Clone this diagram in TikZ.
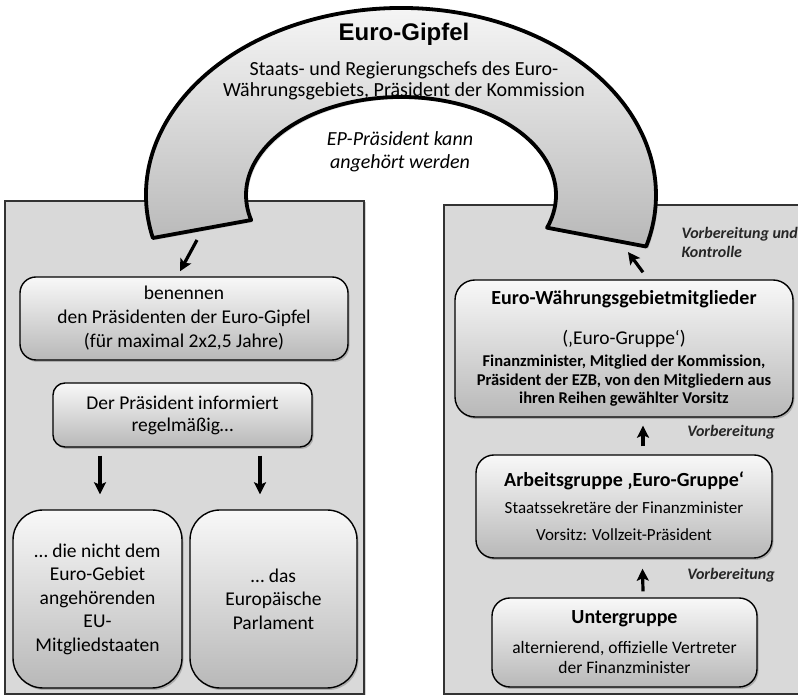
\documentclass[tikz,border=0pt]{standalone}
\usepackage{fontspec}
\setmainfont{Carlito}
\newfontfamily\arialfont{Liberation Sans}
\usetikzlibrary{arrows.meta,positioning,shadows,calc}
\definecolor{panelgray}{HTML}{D9D9D9}
\definecolor{panelline}{HTML}{333333}
\definecolor{boxtop}{HTML}{F8F8F8}
\definecolor{boxbottom}{HTML}{B8B8B8}
\definecolor{archtop}{HTML}{FAFAFA}
\definecolor{archbottom}{HTML}{B8B8B8}
\newcommand{\fsz}[2]{\fontsize{#1}{#2}\selectfont}
\tikzset{
  panel/.style={draw=panelline,fill=panelgray,line width=1.7pt,
    drop shadow={shadow xshift=1.5pt,shadow yshift=-1.5pt,opacity=.35}},
  archband/.style={draw=black,line width=3.8pt,line join=round,
    top color=archtop,bottom color=archbottom,
    drop shadow={shadow xshift=2pt,shadow yshift=-2pt,opacity=.3}},
  gbox/.style={draw=black,line width=1.4pt,top color=boxtop,bottom color=boxbottom,
    align=center,inner sep=0pt,
    drop shadow={shadow xshift=1.5pt,shadow yshift=-2pt,opacity=.5}},
  arr/.style={-{Stealth[length=12pt,width=12pt,inset=2.5pt]},line width=3.2pt},
  note/.style={font=\fsz{16}{19}\bfseries\itshape,text=black!85,align=left},
}
\begin{document}
\begin{tikzpicture}[x=1pt,y=1pt]
\useasboundingbox (0,0) rectangle (798,695);
% panels
\draw[panel] (5,1) rectangle (364,494);
\draw[panel] (444,1) rectangle (806,490);
% arch
\coordinate (archc) at (401,500);
\draw[archband] ($(archc)+(193.3:255 and 187)$)
  arc[start angle=193.3,end angle=-16,x radius=255,y radius=187]
  -- ($(archc)+(-19.5:155 and 98)$)
  arc[start angle=-19.5,end angle=194.8,x radius=155,y radius=98] -- cycle;
\coordinate (legL) at (197,455);
\coordinate (legR) at (628,443);
\node[font=\arialfont\bfseries\fsz{24}{28}] (title) at (404,661) {Euro-Gipfel};
\node[font=\fsz{20}{21},align=center] (members) at (404,614)
  {Staats- und Regierungschefs des Euro-\\Währungsgebiets, Präsident der Kommission};
\node[font=\fsz{20}{23}\itshape,align=center] (epnote) at (400,543)
  {EP-Präsident kann\\angehört werden};
% left panel
\node[gbox,rounded corners=16pt,minimum width=328pt,minimum height=83pt,font=\fsz{19.5}{24}]
  (name) at (184,376.5) {benennen\\den Präsidenten der Euro-Gipfel\\(für maximal 2x2,5 Jahre)};
\node[gbox,rounded corners=12pt,minimum width=259pt,minimum height=64pt,font=\fsz{19.5}{22}]
  (inform) at (182.5,280) {Der Präsident informiert\\regelmäßig…};
\node[gbox,rounded corners=30pt,minimum width=169pt,minimum height=178pt,font=\fsz{19.5}{23.5}]
  (nonEU) at (97.5,96) {… die nicht dem\\Euro-Gebiet\\angehörenden\\EU-\\Mitgliedstaaten};
\node[gbox,rounded corners=30pt,minimum width=167pt,minimum height=178pt,font=\fsz{19.5}{23.5}]
  (parl) at (273.5,96) {… das\\Europäische\\Parlament};
% right panel
\node[gbox,rounded corners=20pt,minimum width=338pt,minimum height=137pt,font=\fsz{16.5}{18.5}\bfseries]
  (eurogroup) at (624,346.5) {{\fsz{20}{24}Euro-Währungsgebietmitglieder}\\[21pt]
  {\mdseries\fsz{19.5}{22}(‚Euro-Gruppe‘)}\\[4pt]
  Finanzminister, Mitglied der Kommission,\\
  Präsident der EZB, von den Mitgliedern aus\\
  ihren Reihen gewählter Vorsitz};
\node[gbox,rounded corners=18pt,minimum width=296pt,minimum height=103pt,font=\fsz{17}{27}]
  (workgroup) at (624,188.5) {{\bfseries\fsz{20}{27}Arbeitsgruppe ‚Euro-Gruppe‘}\\
  Staatssekretäre der Finanzminister\\Vorsitz: Vollzeit-Präsident};
\node[gbox,rounded corners=18pt,minimum width=265pt,minimum height=89pt,font=\fsz{17.5}{20}]
  (subgroup) at (624.5,52.5) {{\bfseries\fsz{20}{24}Untergruppe}\\[10pt]
  alternierend, offizielle Vertreter\\der Finanzminister};
\node[note,anchor=west] (ctrlnote) at (678,452.5) {Vorbereitung und\\Kontrolle};
\node[note] (prepA) at (731,263) {Vorbereitung};
\node[note] (prepB) at (731,120) {Vorbereitung};
% arrows
\draw[arr] (legL) -- ([xshift=-4pt,yshift=5pt]name.north);
\draw[arr] ([xshift=19pt,yshift=7pt]eurogroup.north) -- (legR);
\draw[arr] ([xshift=19pt,yshift=8pt]workgroup.north) -- ([xshift=19pt,yshift=-8pt]eurogroup.south);
\draw[arr] ([xshift=18.5pt,yshift=6pt]subgroup.north) -- ([xshift=18.5pt,yshift=-10pt]workgroup.south);
\draw[arr,shorten <=8pt,shorten >=15pt] ($(inform.south -| nonEU.north)+(2.5,0)$) -- ([xshift=2.5pt]nonEU.north);
\draw[arr,shorten <=8pt,shorten >=15pt] ($(inform.south -| parl.north)+(-13.5,0)$) -- ([xshift=-13.5pt]parl.north);
\end{tikzpicture}
\end{document}
